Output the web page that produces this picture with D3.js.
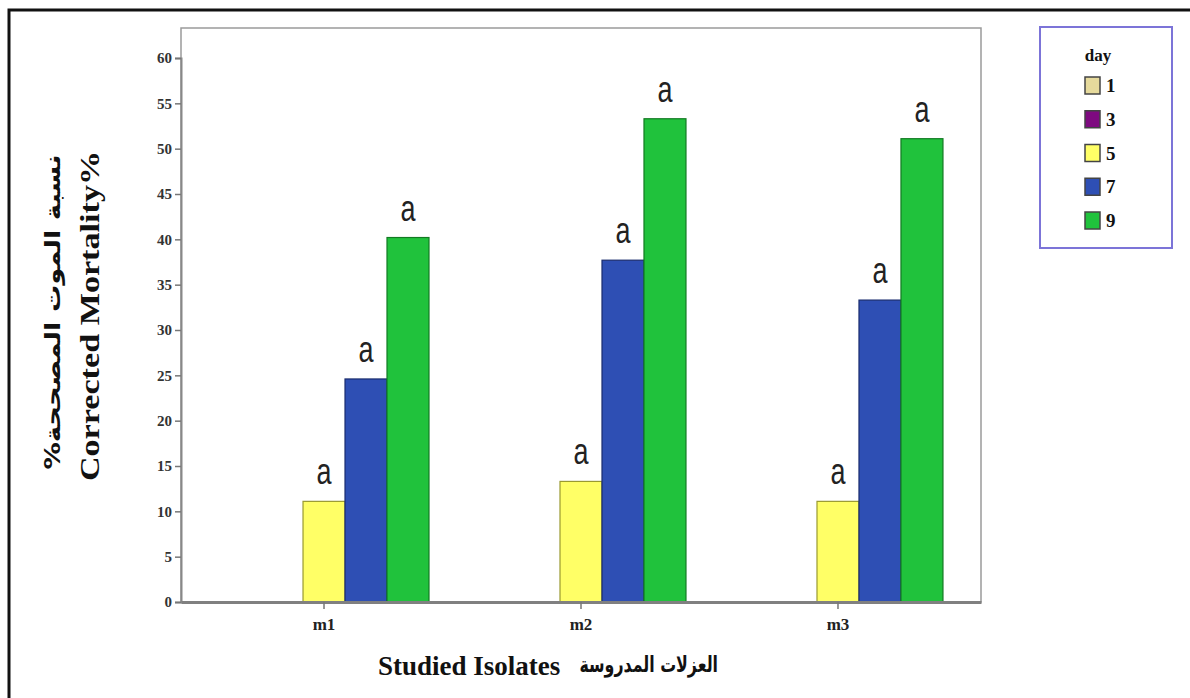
<!DOCTYPE html>
<html>
<head>
<meta charset="utf-8">
<script src="https://cdn.jsdelivr.net/npm/d3@7"></script>
<style>
  html, body { margin: 0; padding: 0; background: #fff; }
  svg { display: block; }
</style>
</head>
<body>
<svg id="chart" width="1190" height="698"></svg>
<script>
// Isolates on the category axis and the sampling days in the legend
const isolates = ["m1", "m2", "m3"];
const days = ["1", "3", "5", "7", "9"];
const dayColors = ["#e6da9c", "#7e0a80", "#ffff66", "#2e4fb4", "#20c23c"];
const dayStrokes = ["#8a8050", "#40004a", "#9a9a30", "#1a2c6e", "#127a22"];

// Corrected mortality (%) per isolate and day (days 1 and 3 recorded no mortality)
const day5 = [11.1, 13.3, 11.1];
const day7 = [24.6, 37.7, 33.3];
const day9 = [40.2, 53.3, 51.1];
const letters = ["a", "a", "a"];

const yTicks = [0, 5, 10, 15, 20, 25, 30, 35, 40, 45, 50, 55, 60];

const rows = [];
isolates.forEach((iso, i) => {
  rows.push({ iso, day: "5", value: day5[i], label: letters[i] });
  rows.push({ iso, day: "7", value: day7[i], label: letters[i] });
  rows.push({ iso, day: "9", value: day9[i], label: letters[i] });
});

const svg = d3.select("#chart");

// outer border of the figure
svg.append("rect")
  .attr("x", 9).attr("y", 10)
  .attr("width", 1240).attr("height", 760)
  .attr("fill", "none").attr("stroke", "#111").attr("stroke-width", 3);

const plot = { left: 181, right: 981, top: 28, bottom: 602 };

const x = d3.scaleBand().domain(isolates)
  .range([plot.left, plot.right])
  .paddingInner(0.183).paddingOuter(0.148);
const xDay = d3.scaleBand().domain(days).range([0, x.bandwidth()]).padding(0);
const y = d3.scaleLinear().domain([0, 60]).range([plot.bottom, 58]);
const color = d3.scaleOrdinal().domain(days).range(dayColors);
const stroke = d3.scaleOrdinal().domain(days).range(dayStrokes);

// plot frame
svg.append("rect")
  .attr("x", plot.left).attr("y", plot.top)
  .attr("width", plot.right - plot.left).attr("height", plot.bottom - plot.top)
  .attr("fill", "#fff").attr("stroke", "#9a9a9a").attr("stroke-width", 1.5);

// bars
svg.append("g").selectAll("rect").data(rows).join("rect")
  .attr("x", d => x(d.iso) + xDay(d.day))
  .attr("y", d => y(d.value))
  .attr("width", xDay.bandwidth())
  .attr("height", d => y(0) - y(d.value))
  .attr("fill", d => color(d.day))
  .attr("stroke", d => stroke(d.day))
  .attr("stroke-width", 1.2);

// significance letters
svg.append("g").selectAll("text").data(rows).join("text")
  .attr("transform", d => `translate(${x(d.iso) + xDay(d.day) + xDay.bandwidth() / 2},${y(d.value) - 17}) scale(0.75,1)`)
  .attr("text-anchor", "middle")
  .attr("font-family", "Liberation Sans, Arial, sans-serif")
  .attr("font-size", 36)
  .attr("fill", "#222")
  .text(d => d.label);

// y axis
const yAxis = svg.append("g")
  .attr("transform", `translate(${plot.left},0)`)
  .call(d3.axisLeft(y).tickValues(yTicks).tickSize(6).tickPadding(3).tickFormat(d3.format("d")));
yAxis.select(".domain").attr("stroke", "#888").attr("stroke-width", 2);
yAxis.selectAll(".tick line").attr("stroke", "#777").attr("stroke-width", 1.5);
yAxis.selectAll(".tick text")
  .attr("font-family", "Liberation Serif, Times New Roman, serif")
  .attr("font-weight", "bold").attr("font-size", 15).attr("fill", "#333");

// x axis
const xAxis = svg.append("g")
  .attr("transform", `translate(0,${plot.bottom})`)
  .call(d3.axisBottom(x).tickSize(7).tickPadding(9).tickSizeOuter(0));
xAxis.select(".domain").attr("stroke", "#808080").attr("stroke-width", 3);
xAxis.selectAll(".tick line").attr("stroke", "#777").attr("stroke-width", 1.5);
xAxis.selectAll(".tick text")
  .attr("font-family", "Liberation Serif, Times New Roman, serif")
  .attr("font-weight", "bold").attr("font-size", 17).attr("fill", "#222");

// x axis title: English then Arabic
svg.append("text")
  .attr("x", 378).attr("y", 675)
  .attr("font-family", "Liberation Serif, Times New Roman, serif")
  .attr("font-weight", "bold").attr("font-size", 27).attr("fill", "#111")
  .text("Studied Isolates");
svg.append("text")
  .attr("transform", "translate(718,672) scale(0.72,1)")
  .attr("text-anchor", "start")
  .attr("direction", "rtl")
  .attr("font-family", "DejaVu Sans, sans-serif")
  .attr("font-weight", "bold").attr("font-size", 22).attr("fill", "#111")
  .text("العزلات المدروسة");

// y axis title, two stacked lines
svg.append("text")
  .attr("transform", "translate(60,312) rotate(-90) scale(1.3,1)")
  .attr("text-anchor", "middle")
  .attr("direction", "rtl")
  .attr("font-family", "DejaVu Sans, sans-serif")
  .attr("font-weight", "bold").attr("font-size", 21).attr("fill", "#111")
  .text("نسبة الموت المصححة%");
svg.append("text")
  .attr("transform", "translate(99,316) rotate(-90) scale(1.22,1)")
  .attr("text-anchor", "middle")
  .attr("font-family", "Liberation Serif, Times New Roman, serif")
  .attr("font-weight", "bold").attr("font-size", 28).attr("fill", "#111")
  .text("Corrected Mortality%");

// legend
const lg = svg.append("g");
lg.append("rect")
  .attr("x", 1040).attr("y", 27).attr("width", 132).attr("height", 221)
  .attr("fill", "#fff").attr("stroke", "#7c74d8").attr("stroke-width", 2);
lg.append("text")
  .attr("x", 1098).attr("y", 61).attr("text-anchor", "middle")
  .attr("font-family", "Liberation Serif, Times New Roman, serif")
  .attr("font-weight", "bold").attr("font-size", 17).attr("fill", "#111")
  .text("day");
const ly = d3.scalePoint().domain(days).range([85, 220]);
const items = lg.selectAll("g.item").data(days).join("g")
  .attr("class", "item")
  .attr("transform", d => `translate(1085,${ly(d)})`);
items.append("rect")
  .attr("x", 0).attr("y", -8).attr("width", 15).attr("height", 17)
  .attr("fill", d => color(d)).attr("stroke", "#444").attr("stroke-width", 1.5);
items.append("text")
  .attr("x", 21).attr("y", 7)
  .attr("font-family", "Liberation Serif, Times New Roman, serif")
  .attr("font-weight", "bold").attr("font-size", 19).attr("fill", "#111")
  .text(d => d);
</script>
</body>
</html>
